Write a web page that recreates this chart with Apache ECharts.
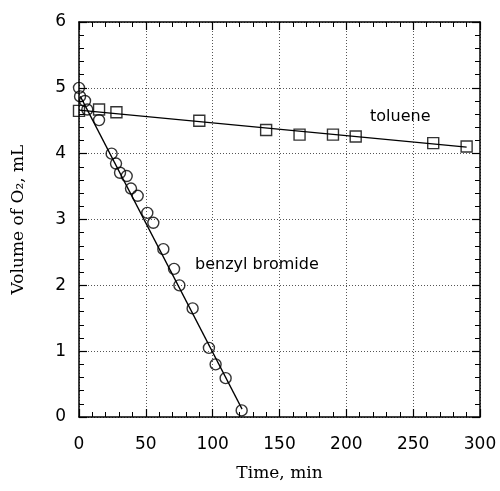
<!DOCTYPE html>
<html>
<head>
<meta charset="utf-8">
<script src="https://cdn.jsdelivr.net/npm/echarts@6/dist/echarts.min.js"></script>
<style>
  html, body { margin: 0; padding: 0; background: #fff; }
  #box { width: 500px; height: 491px; }
</style>
</head>
<body>
<div id="box"></div>
<script>
// benzyl bromide (circles)
var benzylTime = [0, 0.8, 4.5, 6.2, 15, 24.4, 27.7, 30.7, 35.7, 38.9, 43.9, 51.1, 55.6, 63.1, 71.1, 75.1, 85, 97.2, 102.2, 109.7, 121.7]
var benzylVol = [5.0, 4.87, 4.8, 4.67, 4.51, 4.0, 3.85, 3.71, 3.66, 3.47, 3.36, 3.1, 2.95, 2.55, 2.25, 2.0, 1.65, 1.05, 0.8, 0.59, 0.1]
// toluene (squares)
var tolueneTime = [0, 15, 28, 90, 140, 165, 190, 207, 265, 290]
var tolueneVol = [4.65, 4.67, 4.63, 4.5, 4.36, 4.29, 4.29, 4.26, 4.16, 4.11]
// fitted lines
var benzylFit = [[1, 4.87], [122, 0.12]]
var tolueneFit = [[0, 4.66], [290, 4.1]]

var xTicks = [0, 50, 100, 150, 200, 250, 300]
var yTicks = [0, 1, 2, 3, 4, 5, 6]

function pairs(xs, ys) {
    return xs.map(function (x, i) { return [x, ys[i]] })
}

var chart = echarts.init(document.getElementById('box'))

var tickFont = { fontFamily: 'DejaVu Sans', fontSize: 17, color: '#000' }
var titleFont = { fontFamily: 'DejaVu Serif', fontSize: 17, color: '#000' }
var axisLine = { show: true, onZero: false, lineStyle: { color: '#000', width: 1.5 } }
var majorTick = { inside: true, length: 8, lineStyle: { color: '#000', width: 1.2 } }
var minorTick = { show: true, splitNumber: 5, length: 5, lineStyle: { color: '#000', width: 1 } }
var grid = { show: true, lineStyle: { color: '#555', type: [1, 2], width: 1 } }

chart.setOption({
    animation: false,
    grid: { left: 79, top: 22, right: 20, bottom: 74 },
    xAxis: [{
        type: 'value',
        min: xTicks[0],
        max: xTicks[xTicks.length - 1],
        interval: 50,
        name: 'Time, min',
        nameLocation: 'middle',
        nameGap: 48,
        nameTextStyle: titleFont,
        axisLine: axisLine,
        axisTick: majorTick,
        minorTick: minorTick,
        axisLabel: Object.assign({ margin: 19 }, tickFont),
        splitLine: grid
    }, {
        type: 'value',
        position: 'top',
        min: xTicks[0],
        max: xTicks[xTicks.length - 1],
        interval: 50,
        axisLine: axisLine,
        axisTick: majorTick,
        minorTick: minorTick,
        axisLabel: { show: false },
        splitLine: { show: false }
    }],
    yAxis: [{
        type: 'value',
        min: yTicks[0],
        max: yTicks[yTicks.length - 1],
        interval: 1,
        name: 'Volume of O\u2082, mL',
        nameLocation: 'middle',
        nameGap: 52,
        nameTextStyle: titleFont,
        axisLine: axisLine,
        axisTick: majorTick,
        minorTick: minorTick,
        axisLabel: Object.assign({ margin: 13 }, tickFont),
        splitLine: grid
    }, {
        type: 'value',
        position: 'right',
        min: yTicks[0],
        max: yTicks[yTicks.length - 1],
        interval: 1,
        axisLine: axisLine,
        axisTick: majorTick,
        minorTick: minorTick,
        axisLabel: { show: false },
        splitLine: { show: false }
    }],
    graphic: [{
        type: 'text', left: 370, top: 109,
        style: { text: 'toluene', fontFamily: 'DejaVu Sans', fontSize: 16, fill: '#000' }
    }, {
        type: 'text', left: 195, top: 257,
        style: { text: 'benzyl bromide', fontFamily: 'DejaVu Sans', fontSize: 16, fill: '#000' }
    }],
    series: [{
        name: 'benzyl fit',
        type: 'line',
        data: benzylFit,
        symbol: 'none',
        lineStyle: { color: '#000', width: 1.3 },
        z: 2
    }, {
        name: 'toluene fit',
        type: 'line',
        data: tolueneFit,
        symbol: 'none',
        lineStyle: { color: '#000', width: 1.3 },
        z: 2
    }, {
        name: 'benzyl bromide',
        type: 'scatter',
        data: pairs(benzylTime, benzylVol),
        symbol: 'circle',
        symbolSize: 11,
        itemStyle: { color: 'rgba(255,255,255,0)', borderColor: '#000', borderWidth: 1.4 },
        z: 3
    }, {
        name: 'toluene',
        type: 'scatter',
        data: pairs(tolueneTime, tolueneVol),
        symbol: 'rect',
        symbolSize: 11,
        itemStyle: { color: 'rgba(255,255,255,0)', borderColor: '#000', borderWidth: 1.4 },
        z: 3
    }]
})
</script>
</body>
</html>
